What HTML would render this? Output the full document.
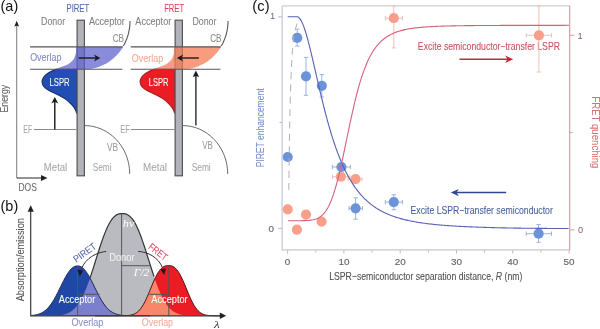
<!DOCTYPE html>
<html><head><meta charset="utf-8"><style>
html,body{margin:0;padding:0;background:#fff;width:600px;height:329px;overflow:hidden}
svg{display:block;filter:blur(0.35px)}
text{font-family:"Liberation Sans", sans-serif}
</style></head><body>
<svg width="600" height="329" viewBox="0 0 600 329">
<rect width="600" height="329" fill="#fff"/>
<text x="0.55" y="10.80" font-size="14.30" fill="#111" stroke="#111" stroke-width="0.00" textLength="17.70" lengthAdjust="spacingAndGlyphs"  style="">(a)</text>
<text x="0.55" y="210.80" font-size="14.30" fill="#111" stroke="#111" stroke-width="0.00" textLength="17.70" lengthAdjust="spacingAndGlyphs"  style="">(b)</text>
<text x="252.35" y="10.80" font-size="14.30" fill="#111" stroke="#111" stroke-width="0.00" textLength="17.20" lengthAdjust="spacingAndGlyphs"  style="">(c)</text>
<path d="M16.7,178 L16.7,25" stroke="#858585" stroke-width="1.1" fill="none"/>
<path d="M16.7,178 L45,178" stroke="#4a4a4a" stroke-width="1.2" fill="none"/>
<path d="M16.7,20.8 L14.3,26.6 L16.7,25.8 L19.1,26.6 Z" fill="#222"/>
<path d="M47.5,178 L41,174.9 L41,181.1 Z" fill="#222"/>
<text x="18.45" y="191.30" font-size="11.02" fill="#6a6a6a" stroke="#6a6a6a" stroke-width="0.08" textLength="18.40" lengthAdjust="spacingAndGlyphs"  style="">DOS</text>
<g transform="translate(5.00,98.70) rotate(-90.00)"><text x="0" y="3.20" font-size="10.37" fill="#606060" stroke="#606060" stroke-width="0.08" text-anchor="middle" textLength="27.70" lengthAdjust="spacingAndGlyphs" style="">Energy</text></g>
<path d="M56.09,69.30 C55.23,69.68 52.67,70.63 50.90,71.60 C49.13,72.57 46.88,73.82 45.50,75.10 C44.12,76.38 43.17,78.13 42.60,79.30 C42.03,80.47 41.92,80.93 42.10,82.10 C42.28,83.27 42.53,84.90 43.70,86.30 C44.87,87.70 46.73,89.10 49.10,90.50 C51.47,91.90 55.05,93.18 57.90,94.70 C60.75,96.22 63.82,97.85 66.20,99.60 C68.58,101.35 70.65,103.47 72.20,105.20 C73.75,106.93 74.78,108.70 75.50,110.00 C76.22,111.30 76.33,112.50 76.50,113.00 L77.00,113.00 L77.00,69.30 Z" fill="#224db2" stroke="#182c6a" stroke-width="1.1"/>
<rect x="77.10" y="20.2" width="7.30" height="155.6" fill="#b2b3b9" stroke="#55565a" stroke-width="1.2"/>
<path d="M76.50,46.90 L122.79,46.90 L122.32,47.67 L121.29,49.21 L120.21,50.72 L119.07,52.17 L117.89,53.58 L116.64,54.94 L115.35,56.25 L114.01,57.50 L112.63,58.70 L111.20,59.83 L109.73,60.91 L108.23,61.93 L106.68,62.88 L105.10,63.77 L103.49,64.59 L101.85,65.35 L100.18,66.03 L98.49,66.65 L96.78,67.20 L95.05,67.67 L93.30,68.08 L91.53,68.41 L89.76,68.67 L87.98,68.85 L86.19,68.96 L84.40,69.00 L56.09,69.30  C56.39,69.17 56.72,68.95 57.90,68.50 C59.08,68.05 61.25,67.45 63.20,66.60 C65.15,65.75 67.82,64.63 69.60,63.40 C71.38,62.17 72.83,60.80 73.90,59.20 C74.97,57.60 75.58,55.33 76.00,53.80 C76.42,52.27 76.32,51.13 76.40,50.00 C76.48,48.87 76.48,47.50 76.50,47.00 Z" fill="#5a60cc" fill-opacity="0.72" stroke="none"/>
<path d="M56.09,69.30 C56.39,69.17 56.72,68.95 57.90,68.50 C59.08,68.05 61.25,67.45 63.20,66.60 C65.15,65.75 67.82,64.63 69.60,63.40 C71.38,62.17 72.83,60.80 73.90,59.20 C74.97,57.60 75.58,55.33 76.00,53.80 C76.42,52.27 76.32,51.13 76.40,50.00 C76.48,48.87 76.48,47.50 76.50,47.00" fill="none" stroke="#5a60cc" stroke-width="0.5" stroke-opacity="0.6"/>
<path d="M30.10,46.90 L122.79,46.90 M30.10,69.30 L122.40,69.30" stroke="#555555" stroke-width="1.1" fill="none"/>
<path d="M123.28,46.08 L124.19,44.45 L125.03,42.79 L125.81,41.10 L126.53,39.37 L127.18,37.61 L127.77,35.83 L128.29,34.03 L128.74,32.21 L129.12,30.36 L129.44,28.51 L129.68,26.64 L129.86,24.77 L129.96,22.88 L130.00,21.00" fill="none" stroke="#555" stroke-width="1.1"/>
<path d="M84.40,69.00 L86.19,68.96 L87.98,68.85 L89.76,68.67 L91.53,68.41 L93.30,68.08 L95.05,67.67 L96.78,67.20 L98.49,66.65 L100.18,66.03 L101.85,65.35 L103.49,64.59 L105.10,63.77 L106.68,62.88 L108.23,61.93 L109.73,60.91 L111.20,59.83 L112.63,58.70 L114.01,57.50 L115.35,56.25 L116.64,54.94 L117.89,53.58 L119.07,52.17 L120.21,50.72 L121.29,49.21 L122.32,47.67" fill="none" stroke="#5a60cc" stroke-width="0.7" stroke-opacity="0.5"/>
<path d="M34.00,129.5 L76.50,129.5" stroke="#8a8a8a" stroke-width="1.1" fill="none"/>
<path d="M84.40,125.60 L86.18,125.64 L87.95,125.75 L89.72,125.94 L91.49,126.20 L93.24,126.53 L94.98,126.94 L96.70,127.42 L98.40,127.97 L100.08,128.59 L101.74,129.28 L103.37,130.05 L104.97,130.88 L106.53,131.77 L108.07,132.73 L109.57,133.76 L111.03,134.84 L112.44,135.99 L113.82,137.20 L115.15,138.46 L116.43,139.78 L117.66,141.15 L118.85,142.57 L119.97,144.04 L121.05,145.55 L122.07,147.11 L123.02,148.71 L123.92,150.35 L124.76,152.03 L125.54,153.74 L126.25,155.48 L126.90,157.25 L127.48,159.04 L128.00,160.86 L128.45,162.70 L128.83,164.56 L129.14,166.43 L129.39,168.31 L129.56,170.20 L129.67,172.10 L129.70,174.00" fill="none" stroke="#666" stroke-width="1.0"/>
<text x="66.55" y="12.40" font-size="11.02" fill="#5267b6" stroke="#5267b6" stroke-width="0.08" textLength="22.60" lengthAdjust="spacingAndGlyphs"  style="">PIRET</text>
<text x="112.65" y="41.70" font-size="10.69" fill="#8c8c8c" stroke="#8c8c8c" stroke-width="0.08" textLength="11.30" lengthAdjust="spacingAndGlyphs"  style="">CB</text>
<text x="23.35" y="133.20" font-size="10.15" fill="#a9a9a9" stroke="#a9a9a9" stroke-width="0.08" textLength="8.90" lengthAdjust="spacingAndGlyphs"  style="">EF</text>
<text x="106.95" y="150.60" font-size="10.15" fill="#9a9a9a" stroke="#9a9a9a" stroke-width="0.08" textLength="11.10" lengthAdjust="spacingAndGlyphs"  style="">VB</text>
<text x="43.85" y="170.60" font-size="10.15" fill="#a9a9a9" stroke="#a9a9a9" stroke-width="0.08" textLength="23.40" lengthAdjust="spacingAndGlyphs"  style="">Metal</text>
<text x="92.75" y="170.60" font-size="10.15" fill="#a9a9a9" stroke="#a9a9a9" stroke-width="0.08" textLength="18.80" lengthAdjust="spacingAndGlyphs"  style="">Semi</text>
<text x="30.15" y="61.40" font-size="10.58" fill="#8289c6" stroke="#8289c6" stroke-width="0.08" textLength="31.30" lengthAdjust="spacingAndGlyphs"  style="">Overlap</text>
<text x="49.55" y="86.20" font-size="11.12" fill="#ffffff" stroke="#ffffff" stroke-width="0.08" textLength="20.00" lengthAdjust="spacingAndGlyphs"  style="">LSPR</text>
<text x="41.05" y="25.10" font-size="10.37" fill="#808080" stroke="#808080" stroke-width="0.08" textLength="24.10" lengthAdjust="spacingAndGlyphs"  style="">Donor</text>
<text x="88.95" y="25.30" font-size="10.37" fill="#808080" stroke="#808080" stroke-width="0.08" textLength="35.90" lengthAdjust="spacingAndGlyphs"  style="">Acceptor</text>
<path d="M78.60,58.0 L96.00,58.0" stroke="#1a1a1a" stroke-width="1.4"/>
<path d="M100.3,58.0 L94.0,54.4 L95.8,58.0 L94.0,61.6 Z" fill="#1a1a1a"/>
<path d="M54.8,129.5 L54.8,101" stroke="#1a1a1a" stroke-width="1.4"/>
<path d="M54.8,96.9 L51.3,103.4 L54.8,101.8 L58.3,103.4 Z" fill="#1a1a1a"/>
<path d="M154.09,69.30 C153.23,69.68 150.67,70.63 148.90,71.60 C147.13,72.57 144.88,73.82 143.50,75.10 C142.12,76.38 141.17,78.13 140.60,79.30 C140.03,80.47 139.92,80.93 140.10,82.10 C140.28,83.27 140.53,84.90 141.70,86.30 C142.87,87.70 144.73,89.10 147.10,90.50 C149.47,91.90 153.05,93.18 155.90,94.70 C158.75,96.22 161.82,97.85 164.20,99.60 C166.58,101.35 168.65,103.47 170.20,105.20 C171.75,106.93 172.78,108.70 173.50,110.00 C174.22,111.30 174.33,112.50 174.50,113.00 L175.00,113.00 L175.00,69.30 Z" fill="#ec1c24" stroke="#a02020" stroke-width="1.1"/>
<rect x="175.10" y="20.2" width="7.30" height="155.6" fill="#b2b3b9" stroke="#55565a" stroke-width="1.2"/>
<path d="M174.50,46.90 L220.79,46.90 L220.32,47.67 L219.29,49.21 L218.21,50.72 L217.07,52.17 L215.89,53.58 L214.64,54.94 L213.35,56.25 L212.01,57.50 L210.63,58.70 L209.20,59.83 L207.73,60.91 L206.23,61.93 L204.68,62.88 L203.10,63.77 L201.49,64.59 L199.85,65.35 L198.18,66.03 L196.49,66.65 L194.78,67.20 L193.05,67.67 L191.30,68.08 L189.53,68.41 L187.76,68.67 L185.98,68.85 L184.19,68.96 L182.40,69.00 L154.09,69.30  C154.39,69.17 154.72,68.95 155.90,68.50 C157.08,68.05 159.25,67.45 161.20,66.60 C163.15,65.75 165.82,64.63 167.60,63.40 C169.38,62.17 170.83,60.80 171.90,59.20 C172.97,57.60 173.58,55.33 174.00,53.80 C174.42,52.27 174.32,51.13 174.40,50.00 C174.48,48.87 174.48,47.50 174.50,47.00 Z" fill="#f47a52" fill-opacity="0.74" stroke="none"/>
<path d="M154.09,69.30 C154.39,69.17 154.72,68.95 155.90,68.50 C157.08,68.05 159.25,67.45 161.20,66.60 C163.15,65.75 165.82,64.63 167.60,63.40 C169.38,62.17 170.83,60.80 171.90,59.20 C172.97,57.60 173.58,55.33 174.00,53.80 C174.42,52.27 174.32,51.13 174.40,50.00 C174.48,48.87 174.48,47.50 174.50,47.00" fill="none" stroke="#f47a52" stroke-width="0.5" stroke-opacity="0.6"/>
<path d="M130.70,46.90 L220.79,46.90 M130.70,69.30 L220.40,69.30" stroke="#555555" stroke-width="1.1" fill="none"/>
<path d="M221.28,46.08 L222.19,44.45 L223.03,42.79 L223.81,41.10 L224.53,39.37 L225.18,37.61 L225.77,35.83 L226.29,34.03 L226.74,32.21 L227.12,30.36 L227.44,28.51 L227.68,26.64 L227.86,24.77 L227.96,22.88 L228.00,21.00" fill="none" stroke="#555" stroke-width="1.1"/>
<path d="M182.40,69.00 L184.19,68.96 L185.98,68.85 L187.76,68.67 L189.53,68.41 L191.30,68.08 L193.05,67.67 L194.78,67.20 L196.49,66.65 L198.18,66.03 L199.85,65.35 L201.49,64.59 L203.10,63.77 L204.68,62.88 L206.23,61.93 L207.73,60.91 L209.20,59.83 L210.63,58.70 L212.01,57.50 L213.35,56.25 L214.64,54.94 L215.89,53.58 L217.07,52.17 L218.21,50.72 L219.29,49.21 L220.32,47.67" fill="none" stroke="#f47a52" stroke-width="0.7" stroke-opacity="0.5"/>
<path d="M130.80,129.5 L174.50,129.5" stroke="#8a8a8a" stroke-width="1.1" fill="none"/>
<path d="M182.40,125.60 L184.18,125.64 L185.95,125.75 L187.72,125.94 L189.49,126.20 L191.24,126.53 L192.98,126.94 L194.70,127.42 L196.40,127.97 L198.08,128.59 L199.74,129.28 L201.37,130.05 L202.97,130.88 L204.53,131.77 L206.07,132.73 L207.57,133.76 L209.03,134.84 L210.44,135.99 L211.82,137.20 L213.15,138.46 L214.43,139.78 L215.66,141.15 L216.85,142.57 L217.97,144.04 L219.05,145.55 L220.07,147.11 L221.02,148.71 L221.92,150.35 L222.76,152.03 L223.54,153.74 L224.25,155.48 L224.90,157.25 L225.48,159.04 L226.00,160.86 L226.45,162.70 L226.83,164.56 L227.14,166.43 L227.39,168.31 L227.56,170.20 L227.67,172.10 L227.70,174.00" fill="none" stroke="#666" stroke-width="1.0"/>
<text x="164.15" y="12.40" font-size="11.02" fill="#e23e5c" stroke="#e23e5c" stroke-width="0.08" textLength="19.90" lengthAdjust="spacingAndGlyphs"  style="">FRET</text>
<text x="210.15" y="41.90" font-size="10.69" fill="#8c8c8c" stroke="#8c8c8c" stroke-width="0.08" textLength="11.30" lengthAdjust="spacingAndGlyphs"  style="">CB</text>
<text x="120.35" y="132.60" font-size="10.15" fill="#a9a9a9" stroke="#a9a9a9" stroke-width="0.08" textLength="9.60" lengthAdjust="spacingAndGlyphs"  style="">EF</text>
<text x="202.25" y="149.40" font-size="10.15" fill="#9a9a9a" stroke="#9a9a9a" stroke-width="0.08" textLength="10.60" lengthAdjust="spacingAndGlyphs"  style="">VB</text>
<text x="143.05" y="170.60" font-size="10.15" fill="#a9a9a9" stroke="#a9a9a9" stroke-width="0.08" textLength="24.00" lengthAdjust="spacingAndGlyphs"  style="">Metal</text>
<text x="191.65" y="170.60" font-size="10.15" fill="#a9a9a9" stroke="#a9a9a9" stroke-width="0.08" textLength="19.10" lengthAdjust="spacingAndGlyphs"  style="">Semi</text>
<text x="131.85" y="61.60" font-size="10.58" fill="#f2a894" stroke="#f2a894" stroke-width="0.08" textLength="31.30" lengthAdjust="spacingAndGlyphs"  style="">Overlap</text>
<text x="148.85" y="85.80" font-size="11.12" fill="#ffffff" stroke="#ffffff" stroke-width="0.08" textLength="19.70" lengthAdjust="spacingAndGlyphs"  style="">LSPR</text>
<text x="135.35" y="25.30" font-size="10.37" fill="#808080" stroke="#808080" stroke-width="0.08" textLength="35.90" lengthAdjust="spacingAndGlyphs"  style="">Acceptor</text>
<text x="192.45" y="25.10" font-size="10.37" fill="#808080" stroke="#808080" stroke-width="0.08" textLength="23.90" lengthAdjust="spacingAndGlyphs"  style="">Donor</text>
<path d="M198.80,58.0 L181.00,58.0" stroke="#1a1a1a" stroke-width="1.4"/>
<path d="M176.9,58.0 L183.2,54.4 L181.4,58.0 L183.2,61.6 Z" fill="#1a1a1a"/>
<path d="M195.9,125.5 L195.9,75" stroke="#1a1a1a" stroke-width="1.3"/>
<path d="M195.9,70.6 L192.7,77.0 L195.9,76.0 L199.1,77.0 Z" fill="#1a1a1a"/>
<path d="M31.00,315.80 L31.00,315.80 L32.21,315.80 L33.41,315.80 L34.62,315.80 L35.83,315.80 L37.03,315.80 L38.24,315.80 L39.44,315.80 L40.65,315.80 L41.86,315.79 L43.06,315.79 L44.27,315.79 L45.48,315.78 L46.68,315.78 L47.89,315.77 L49.09,315.75 L50.30,315.74 L51.51,315.71 L52.71,315.68 L53.92,315.65 L55.12,315.60 L56.33,315.53 L57.54,315.45 L58.74,315.34 L59.95,315.21 L61.16,315.05 L62.36,314.84 L63.57,314.59 L64.78,314.29 L65.98,313.92 L67.19,313.48 L68.39,312.96 L69.60,312.34 L70.81,311.61 L72.01,310.76 L73.22,309.79 L74.42,308.66 L75.63,307.39 L76.84,305.94 L78.04,304.32 L79.25,302.52 L80.46,300.52 L81.66,298.33 L82.87,295.93 L84.08,293.34 L85.28,290.56 L86.49,287.59 L87.69,284.44 L88.90,281.13 L90.11,277.67 L91.31,274.08 L92.52,270.39 L93.72,266.61 L94.93,262.79 L96.14,258.94 L97.34,255.10 L98.55,251.29 L99.76,247.56 L100.96,243.91 L102.17,240.40 L103.38,237.04 L104.58,233.85 L105.79,230.87 L106.99,228.10 L108.20,225.57 L109.41,223.28 L110.61,221.25 L111.82,219.47 L113.03,217.95 L114.23,216.68 L115.44,215.66 L116.64,214.87 L117.85,214.30 L119.06,213.91 L120.26,213.70 L121.47,213.61 L122.67,213.60 L123.88,213.66 L125.09,213.83 L126.29,214.16 L127.50,214.68 L128.71,215.41 L129.91,216.36 L131.12,217.55 L132.32,218.99 L133.53,220.69 L134.74,222.65 L135.94,224.86 L137.15,227.33 L138.36,230.02 L139.56,232.95 L140.77,236.08 L141.97,239.39 L143.18,242.86 L144.39,246.47 L145.59,250.18 L146.80,253.97 L148.01,257.81 L149.21,261.65 L150.42,265.49 L151.62,269.28 L152.83,273.00 L154.04,276.62 L155.24,280.12 L156.45,283.48 L157.66,286.67 L158.86,289.70 L160.07,292.54 L161.28,295.19 L162.48,297.64 L163.69,299.89 L164.89,301.95 L166.10,303.81 L167.31,305.48 L168.51,306.98 L169.72,308.30 L170.93,309.47 L172.13,310.49 L173.34,311.37 L174.54,312.13 L175.75,312.78 L176.96,313.34 L178.16,313.80 L179.37,314.19 L180.57,314.51 L181.78,314.77 L182.99,314.99 L184.19,315.17 L185.40,315.31 L186.61,315.42 L187.81,315.51 L189.02,315.58 L190.22,315.63 L191.43,315.67 L192.64,315.71 L193.84,315.73 L195.05,315.75 L196.26,315.76 L197.46,315.77 L198.67,315.78 L199.88,315.79 L201.08,315.79 L202.29,315.79 L203.49,315.80 L204.70,315.80 L205.91,315.80 L207.11,315.80 L208.32,315.80 L209.53,315.80 L210.73,315.80 L211.94,315.80 L213.14,315.80 L214.35,315.80 L215.56,315.80 L216.76,315.80 L217.97,315.80 L219.18,315.80 L220.38,315.80 L221.59,315.80 L222.79,315.80 L224.00,315.80 L224.00,315.80 Z" fill="#babbc0"/>
<path d="M31.00,315.80 L31.00,315.47 L31.81,315.40 L32.61,315.32 L33.42,315.22 L34.23,315.11 L35.03,314.98 L35.84,314.83 L36.64,314.66 L37.45,314.45 L38.26,314.22 L39.06,313.96 L39.87,313.66 L40.67,313.33 L41.48,312.95 L42.29,312.52 L43.09,312.04 L43.90,311.52 L44.71,310.93 L45.51,310.29 L46.32,309.59 L47.12,308.82 L47.93,307.98 L48.74,307.08 L49.54,306.10 L50.35,305.06 L51.16,303.95 L51.96,302.77 L52.77,301.52 L53.58,300.21 L54.38,298.83 L55.19,297.40 L55.99,295.91 L56.80,294.38 L57.61,292.81 L58.41,291.21 L59.22,289.58 L60.02,287.94 L60.83,286.29 L61.64,284.64 L62.44,283.01 L63.25,281.40 L64.06,279.83 L64.86,278.30 L65.67,276.82 L66.47,275.41 L67.28,274.08 L68.09,272.82 L68.89,271.66 L69.70,270.59 L70.51,269.63 L71.31,268.78 L72.12,268.03 L72.92,267.40 L73.73,266.89 L74.54,266.48 L75.34,266.19 L76.15,266.00 L76.96,265.91 L77.76,265.90 L78.57,265.96 L79.38,266.11 L80.18,266.37 L80.99,266.73 L81.79,267.21 L82.60,267.80 L83.41,268.50 L84.21,269.32 L85.02,270.25 L85.83,271.28 L86.63,272.41 L87.44,273.63 L88.24,274.94 L89.05,276.32 L89.86,277.78 L90.66,279.29 L91.47,280.85 L92.28,282.45 L93.08,284.07 L93.89,285.71 L94.69,287.36 L95.50,289.01 L96.31,290.64 L97.11,292.26 L97.92,293.84 L98.72,295.39 L99.53,296.89 L100.34,298.34 L101.14,299.73 L101.95,301.07 L102.76,302.34 L103.56,303.54 L104.37,304.68 L105.17,305.75 L105.98,306.75 L106.79,307.67 L107.59,308.53 L108.40,309.32 L109.21,310.05 L110.01,310.72 L110.82,311.32 L111.62,311.87 L112.43,312.36 L113.24,312.80 L114.04,313.20 L114.85,313.55 L115.66,313.86 L116.46,314.14 L117.27,314.38 L118.08,314.59 L118.88,314.77 L119.69,314.93 L120.49,315.07 L121.30,315.19 L122.11,315.29 L122.91,315.37 L123.72,315.45 L124.53,315.51 L125.33,315.56 L126.14,315.60 L126.94,315.64 L127.75,315.67 L128.56,315.70 L129.36,315.72 L130.17,315.73 L130.97,315.75 L131.78,315.76 L132.59,315.77 L133.39,315.77 L134.20,315.78 L135.01,315.78 L135.81,315.79 L136.62,315.79 L137.43,315.79 L138.23,315.79 L139.04,315.80 L139.84,315.80 L140.65,315.80 L141.46,315.80 L142.26,315.80 L143.07,315.80 L143.88,315.80 L144.68,315.80 L145.49,315.80 L146.29,315.80 L147.10,315.80 L147.91,315.80 L148.71,315.80 L149.52,315.80 L150.32,315.80 L151.13,315.80 L151.94,315.80 L152.74,315.80 L153.55,315.80 L154.36,315.80 L155.16,315.80 L155.97,315.80 L156.78,315.80 L157.58,315.80 L158.39,315.80 L159.19,315.80 L160.00,315.80 L160.00,315.80 Z" fill="#2147a6"/>
<path d="M90.00,315.80 L90.00,315.80 L90.84,315.80 L91.67,315.80 L92.51,315.80 L93.35,315.80 L94.19,315.80 L95.03,315.80 L95.86,315.80 L96.70,315.80 L97.54,315.80 L98.38,315.80 L99.21,315.80 L100.05,315.80 L100.89,315.80 L101.72,315.80 L102.56,315.80 L103.40,315.80 L104.24,315.80 L105.08,315.80 L105.91,315.80 L106.75,315.80 L107.59,315.80 L108.42,315.80 L109.26,315.80 L110.10,315.80 L110.94,315.80 L111.78,315.80 L112.61,315.80 L113.45,315.80 L114.29,315.80 L115.12,315.80 L115.96,315.80 L116.80,315.80 L117.64,315.80 L118.47,315.79 L119.31,315.79 L120.15,315.79 L120.99,315.78 L121.83,315.77 L122.66,315.76 L123.50,315.74 L124.34,315.72 L125.17,315.69 L126.01,315.66 L126.85,315.61 L127.69,315.54 L128.53,315.46 L129.36,315.35 L130.20,315.22 L131.04,315.06 L131.88,314.86 L132.71,314.61 L133.55,314.31 L134.39,313.96 L135.22,313.53 L136.06,313.03 L136.90,312.45 L137.74,311.78 L138.57,311.02 L139.41,310.15 L140.25,309.17 L141.09,308.07 L141.93,306.87 L142.76,305.55 L143.60,304.11 L144.44,302.57 L145.28,300.92 L146.11,299.18 L146.95,297.35 L147.79,295.45 L148.62,293.49 L149.46,291.49 L150.30,289.47 L151.14,287.43 L151.97,285.41 L152.81,283.42 L153.65,281.48 L154.49,279.60 L155.32,277.80 L156.16,276.11 L157.00,274.52 L157.84,273.05 L158.68,271.71 L159.51,270.51 L160.35,269.45 L161.19,268.54 L162.03,267.76 L162.86,267.11 L163.70,266.60 L164.54,266.21 L165.38,265.93 L166.21,265.75 L167.05,265.65 L167.89,265.60 L168.72,265.60 L169.56,265.62 L170.40,265.69 L171.24,265.83 L172.07,266.07 L172.91,266.41 L173.75,266.86 L174.59,267.44 L175.43,268.16 L176.26,269.01 L177.10,270.01 L177.94,271.14 L178.78,272.42 L179.61,273.82 L180.45,275.36 L181.29,277.01 L182.12,278.76 L182.96,280.60 L183.80,282.51 L184.64,284.49 L185.47,286.50 L186.31,288.53 L187.15,290.56 L187.99,292.57 L188.82,294.55 L189.66,296.48 L190.50,298.34 L191.34,300.13 L192.18,301.82 L193.01,303.41 L193.85,304.90 L194.69,306.27 L195.53,307.53 L196.36,308.67 L197.20,309.71 L198.04,310.63 L198.88,311.44 L199.71,312.16 L200.55,312.78 L201.39,313.31 L202.22,313.77 L203.06,314.16 L203.90,314.48 L204.74,314.75 L205.57,314.97 L206.41,315.15 L207.25,315.30 L208.09,315.41 L208.93,315.51 L209.76,315.58 L210.60,315.63 L211.44,315.68 L212.28,315.71 L213.11,315.73 L213.95,315.75 L214.79,315.77 L215.62,315.78 L216.46,315.78 L217.30,315.79 L218.14,315.79 L218.97,315.79 L219.81,315.80 L220.65,315.80 L221.49,315.80 L222.32,315.80 L223.16,315.80 L224.00,315.80 L224.00,315.80 Z" fill="#ec1c24"/>
<path d="M31.00,315.80 L31.00,315.80 L31.81,315.80 L32.61,315.80 L33.42,315.80 L34.23,315.80 L35.03,315.80 L35.84,315.80 L36.64,315.80 L37.45,315.80 L38.26,315.80 L39.06,315.80 L39.87,315.80 L40.67,315.80 L41.48,315.79 L42.29,315.79 L43.09,315.79 L43.90,315.79 L44.71,315.79 L45.51,315.78 L46.32,315.78 L47.12,315.77 L47.93,315.77 L48.74,315.76 L49.54,315.75 L50.35,315.74 L51.16,315.72 L51.96,315.70 L52.77,315.68 L53.58,315.66 L54.38,315.63 L55.19,315.59 L55.99,315.55 L56.80,315.50 L57.61,315.44 L58.41,315.37 L59.22,315.29 L60.02,315.20 L60.83,315.09 L61.64,314.97 L62.44,314.83 L63.25,314.66 L64.06,314.48 L64.86,314.27 L65.67,314.02 L66.47,313.75 L67.28,313.44 L68.09,313.10 L68.89,312.71 L69.70,312.28 L70.51,311.80 L71.31,311.27 L72.12,310.68 L72.92,310.04 L73.73,309.33 L74.54,308.55 L75.34,307.71 L76.15,306.79 L76.96,305.79 L77.76,304.72 L78.57,303.56 L79.38,302.32 L80.18,300.99 L80.99,299.58 L81.79,298.07 L82.60,296.48 L83.41,294.80 L84.21,293.03 L85.02,291.18 L85.83,289.24 L86.63,287.22 L87.44,285.12 L88.24,282.95 L89.05,280.70 L89.86,278.39 L90.66,279.29 L91.47,280.85 L92.28,282.45 L93.08,284.07 L93.89,285.71 L94.69,287.36 L95.50,289.01 L96.31,290.64 L97.11,292.26 L97.92,293.84 L98.72,295.39 L99.53,296.89 L100.34,298.34 L101.14,299.73 L101.95,301.07 L102.76,302.34 L103.56,303.54 L104.37,304.68 L105.17,305.75 L105.98,306.75 L106.79,307.67 L107.59,308.53 L108.40,309.32 L109.21,310.05 L110.01,310.72 L110.82,311.32 L111.62,311.87 L112.43,312.36 L113.24,312.80 L114.04,313.20 L114.85,313.55 L115.66,313.86 L116.46,314.14 L117.27,314.38 L118.08,314.59 L118.88,314.77 L119.69,314.93 L120.49,315.07 L121.30,315.19 L122.11,315.29 L122.91,315.37 L123.72,315.45 L124.53,315.51 L125.33,315.56 L126.14,315.60 L126.94,315.64 L127.75,315.67 L128.56,315.70 L129.36,315.72 L130.17,315.73 L130.97,315.75 L131.78,315.76 L132.59,315.77 L133.39,315.77 L134.20,315.78 L135.01,315.78 L135.81,315.79 L136.62,315.79 L137.43,315.79 L138.23,315.79 L139.04,315.80 L139.84,315.80 L140.65,315.80 L141.46,315.80 L142.26,315.80 L143.07,315.80 L143.88,315.80 L144.68,315.80 L145.49,315.80 L146.29,315.80 L147.10,315.80 L147.91,315.80 L148.71,315.80 L149.52,315.80 L150.32,315.80 L151.13,315.80 L151.94,315.80 L152.74,315.80 L153.55,315.80 L154.36,315.80 L155.16,315.80 L155.97,315.80 L156.78,315.80 L157.58,315.80 L158.39,315.80 L159.19,315.80 L160.00,315.80 L160.00,315.80 Z" fill="#7b7fcc"/>
<path d="M90.00,315.80 L90.00,315.80 L90.84,315.80 L91.67,315.80 L92.51,315.80 L93.35,315.80 L94.19,315.80 L95.03,315.80 L95.86,315.80 L96.70,315.80 L97.54,315.80 L98.38,315.80 L99.21,315.80 L100.05,315.80 L100.89,315.80 L101.72,315.80 L102.56,315.80 L103.40,315.80 L104.24,315.80 L105.08,315.80 L105.91,315.80 L106.75,315.80 L107.59,315.80 L108.42,315.80 L109.26,315.80 L110.10,315.80 L110.94,315.80 L111.78,315.80 L112.61,315.80 L113.45,315.80 L114.29,315.80 L115.12,315.80 L115.96,315.80 L116.80,315.80 L117.64,315.80 L118.47,315.79 L119.31,315.79 L120.15,315.79 L120.99,315.78 L121.83,315.77 L122.66,315.76 L123.50,315.74 L124.34,315.72 L125.17,315.69 L126.01,315.66 L126.85,315.61 L127.69,315.54 L128.53,315.46 L129.36,315.35 L130.20,315.22 L131.04,315.06 L131.88,314.86 L132.71,314.61 L133.55,314.31 L134.39,313.96 L135.22,313.53 L136.06,313.03 L136.90,312.45 L137.74,311.78 L138.57,311.02 L139.41,310.15 L140.25,309.17 L141.09,308.07 L141.93,306.87 L142.76,305.55 L143.60,304.11 L144.44,302.57 L145.28,300.92 L146.11,299.18 L146.95,297.35 L147.79,295.45 L148.62,293.49 L149.46,291.49 L150.30,289.47 L151.14,287.43 L151.97,285.41 L152.81,283.42 L153.65,281.48 L154.49,279.60 L155.32,280.35 L156.16,282.69 L157.00,284.96 L157.84,287.14 L158.68,289.24 L159.51,291.25 L160.35,293.18 L161.19,295.00 L162.03,296.74 L162.86,298.37 L163.70,299.91 L164.54,301.36 L165.38,302.71 L166.21,303.97 L167.05,305.14 L167.89,306.23 L168.72,307.22 L169.56,308.14 L170.40,308.98 L171.24,309.75 L172.07,310.45 L172.91,311.08 L173.75,311.65 L174.59,312.16 L175.43,312.62 L176.26,313.03 L177.10,313.40 L177.94,313.72 L178.78,314.01 L179.61,314.26 L180.45,314.48 L181.29,314.67 L182.12,314.84 L182.96,314.99 L183.80,315.11 L184.64,315.22 L185.47,315.31 L186.31,315.39 L187.15,315.46 L187.99,315.52 L188.82,315.57 L189.66,315.61 L190.50,315.64 L191.34,315.67 L192.18,315.70 L193.01,315.71 L193.85,315.73 L194.69,315.74 L195.53,315.76 L196.36,315.76 L197.20,315.77 L198.04,315.78 L198.88,315.78 L199.71,315.79 L200.55,315.79 L201.39,315.79 L202.22,315.79 L203.06,315.79 L203.90,315.80 L204.74,315.80 L205.57,315.80 L206.41,315.80 L207.25,315.80 L208.09,315.80 L208.93,315.80 L209.76,315.80 L210.60,315.80 L211.44,315.80 L212.28,315.80 L213.11,315.80 L213.95,315.80 L214.79,315.80 L215.62,315.80 L216.46,315.80 L217.30,315.80 L218.14,315.80 L218.97,315.80 L219.81,315.80 L220.65,315.80 L221.49,315.80 L222.32,315.80 L223.16,315.80 L224.00,315.80 L224.00,315.80 Z" fill="#f7866a"/>
<path d="M90.11,277.67 L91.31,274.08 L92.52,270.39 L93.72,266.61 L94.93,262.79 L96.14,258.94 L97.34,255.10 L98.55,251.29 L99.76,247.56 L100.96,243.91 L102.17,240.40 L103.38,237.04 L104.58,233.85 L105.79,230.87 L106.99,228.10 L108.20,225.57 L109.41,223.28 L110.61,221.25 L111.82,219.47 L113.03,217.95 L114.23,216.68 L115.44,215.66 L116.64,214.87 L117.85,214.30 L119.06,213.91 L120.26,213.70 L121.47,213.61 L122.67,213.60 L123.88,213.66 L125.09,213.83 L126.29,214.16 L127.50,214.68 L128.71,215.41 L129.91,216.36 L131.12,217.55 L132.32,218.99 L133.53,220.69 L134.74,222.65 L135.94,224.86 L137.15,227.33 L138.36,230.02 L139.56,232.95 L140.77,236.08 L141.97,239.39 L143.18,242.86 L144.39,246.47 L145.59,250.18 L146.80,253.97 L148.01,257.81 L149.21,261.65 L150.42,265.49 L151.62,269.28 L152.83,273.00 L154.04,276.62" fill="none" stroke="#333" stroke-width="1.2"/>
<path d="M31.00,315.47 L31.74,315.41 L32.49,315.33 L33.23,315.25 L33.98,315.15 L34.72,315.03 L35.46,314.90 L36.21,314.75 L36.95,314.58 L37.69,314.39 L38.44,314.17 L39.18,313.92 L39.92,313.64 L40.67,313.33 L41.41,312.98 L42.16,312.59 L42.90,312.16 L43.64,311.69 L44.39,311.17 L45.13,310.60 L45.88,309.98 L46.62,309.31 L47.36,308.58 L48.11,307.79 L48.85,306.95 L49.59,306.04 L50.34,305.08 L51.08,304.06 L51.83,302.97 L52.57,301.84 L53.31,300.64 L54.06,299.39 L54.80,298.09 L55.54,296.75 L56.29,295.36 L57.03,293.94 L57.77,292.48 L58.52,291.00 L59.26,289.49 L60.01,287.98 L60.75,286.45 L61.49,284.93 L62.24,283.43 L62.98,281.93 L63.73,280.47 L64.47,279.04 L65.21,277.65 L65.96,276.31 L66.70,275.03 L67.44,273.82 L68.19,272.67 L68.93,271.61 L69.67,270.63 L70.42,269.73 L71.16,268.93 L71.91,268.22 L72.65,267.60 L73.39,267.09 L74.14,266.67 L74.88,266.34 L75.62,266.11 L76.37,265.97 L77.11,265.91 L77.86,265.91 L78.60,265.97 L79.34,266.11 L80.09,266.33 L80.83,266.65 L81.58,267.07 L82.32,267.58 L83.06,268.19 L83.81,268.89 L84.55,269.69 L85.29,270.59 L86.04,271.57 L86.78,272.63 L87.53,273.77 L88.27,274.98 L89.01,276.26 L89.76,277.59 L90.50,278.98 L91.24,280.41 L91.99,281.87 L92.73,283.36 L93.47,284.87 L94.22,286.39 L94.96,287.91 L95.71,289.43 L96.45,290.93 L97.19,292.42 L97.94,293.88 L98.68,295.30 L99.42,296.69 L100.17,298.04 L100.91,299.34 L101.66,300.59 L102.40,301.79 L103.14,302.93 L103.89,304.01 L104.63,305.04 L105.38,306.00 L106.12,306.91 L106.86,307.76 L107.61,308.55 L108.35,309.28 L109.09,309.95 L109.84,310.58 L110.58,311.15 L111.33,311.67 L112.07,312.14 L112.81,312.57 L113.56,312.96 L114.30,313.31 L115.04,313.63 L115.79,313.91 L116.53,314.16 L117.28,314.38 L118.02,314.57 L118.76,314.75 L119.51,314.90 L120.25,315.03 L120.99,315.14 L121.74,315.24 L122.48,315.33 L123.22,315.40 L123.97,315.47 L124.71,315.52 L125.46,315.57 L126.20,315.61 L126.94,315.64 L127.69,315.67 L128.43,315.69 L129.18,315.71 L129.92,315.73 L130.66,315.74 L131.41,315.75 L132.15,315.76 L132.89,315.77 L133.64,315.77 L134.38,315.78 L135.12,315.78 L135.87,315.79 L136.61,315.79 L137.36,315.79 L138.10,315.79 L138.84,315.80 L139.59,315.80 L140.33,315.80 L141.07,315.80 L141.82,315.80 L142.56,315.80 L143.31,315.80 L144.05,315.80 L144.79,315.80 L145.54,315.80 L146.28,315.80 L147.03,315.80 L147.77,315.80 L148.51,315.80 L149.26,315.80 L150.00,315.80" fill="none" stroke="#1e2a55" stroke-width="1.0"/>
<path d="M95.00,315.80 L95.81,315.80 L96.61,315.80 L97.42,315.80 L98.22,315.80 L99.03,315.80 L99.84,315.80 L100.64,315.80 L101.45,315.80 L102.26,315.80 L103.06,315.80 L103.87,315.80 L104.67,315.80 L105.48,315.80 L106.29,315.80 L107.09,315.80 L107.90,315.80 L108.71,315.80 L109.51,315.80 L110.32,315.80 L111.12,315.80 L111.93,315.80 L112.74,315.80 L113.54,315.80 L114.35,315.80 L115.16,315.80 L115.96,315.80 L116.77,315.80 L117.58,315.80 L118.38,315.79 L119.19,315.79 L119.99,315.79 L120.80,315.78 L121.61,315.77 L122.41,315.76 L123.22,315.75 L124.03,315.73 L124.83,315.71 L125.64,315.67 L126.44,315.63 L127.25,315.58 L128.06,315.51 L128.86,315.42 L129.67,315.31 L130.47,315.17 L131.28,315.00 L132.09,314.80 L132.89,314.55 L133.70,314.25 L134.51,313.90 L135.31,313.48 L136.12,313.00 L136.93,312.44 L137.73,311.79 L138.54,311.05 L139.34,310.22 L140.15,309.29 L140.96,308.25 L141.76,307.11 L142.57,305.86 L143.38,304.51 L144.18,303.05 L144.99,301.50 L145.79,299.85 L146.60,298.13 L147.41,296.33 L148.21,294.47 L149.02,292.56 L149.82,290.62 L150.63,288.66 L151.44,286.71 L152.24,284.77 L153.05,282.86 L153.86,281.01 L154.66,279.22 L155.47,277.50 L156.28,275.89 L157.08,274.37 L157.89,272.97 L158.69,271.69 L159.50,270.53 L160.31,269.51 L161.11,268.61 L161.92,267.85 L162.72,267.21 L163.53,266.70 L164.34,266.29 L165.14,266.00 L165.95,265.80 L166.76,265.67 L167.56,265.61 L168.37,265.60 L169.18,265.61 L169.98,265.65 L170.79,265.75 L171.59,265.92 L172.40,266.19 L173.21,266.55 L174.01,267.03 L174.82,267.63 L175.62,268.35 L176.43,269.20 L177.24,270.18 L178.04,271.30 L178.85,272.54 L179.66,273.90 L180.46,275.38 L181.27,276.97 L182.07,278.65 L182.88,280.42 L183.69,282.25 L184.49,284.14 L185.30,286.07 L186.11,288.03 L186.91,289.98 L187.72,291.93 L188.53,293.85 L189.33,295.73 L190.14,297.55 L190.94,299.30 L191.75,300.97 L192.56,302.56 L193.36,304.05 L194.17,305.43 L194.97,306.72 L195.78,307.89 L196.59,308.96 L197.39,309.93 L198.20,310.79 L199.01,311.56 L199.81,312.23 L200.62,312.82 L201.43,313.33 L202.23,313.77 L203.04,314.15 L203.84,314.46 L204.65,314.72 L205.46,314.94 L206.26,315.12 L207.07,315.27 L207.88,315.39 L208.68,315.48 L209.49,315.56 L210.29,315.61 L211.10,315.66 L211.91,315.70 L212.71,315.72 L213.52,315.74 L214.32,315.76 L215.13,315.77 L215.94,315.78 L216.74,315.79 L217.55,315.79 L218.36,315.79 L219.16,315.80 L219.97,315.80 L220.78,315.80 L221.58,315.80 L222.39,315.80 L223.19,315.80 L224.00,315.80" fill="none" stroke="#4a1515" stroke-width="1.0"/>
<path d="M77.6,265.90 L77.6,315.8 M77.6,294.3 L99.50,294.3" stroke="#555" stroke-width="1.0" fill="none"/>
<path d="M121.6,213.60 L121.6,315.8 M121.6,265.7 L150.60,265.7" stroke="#55575c" stroke-width="1.0" fill="none"/>
<path d="M168.8,265.60 L168.8,315.8 M148.2,294.3 L168.8,294.3" stroke="#555" stroke-width="1.0" fill="none"/>
<path d="M30.7,210 L30.7,315.8 L221,315.8" stroke="#3a3a3a" stroke-width="1.2" fill="none"/>
<path d="M30.7,205.3 L27.6,211.8 L33.8,211.8 Z" fill="#222"/>
<path d="M226.2,315.8 L219.8,312.6 L219.8,319.0 Z" fill="#222"/>
<g transform="translate(21.10,259.70) rotate(-90.00)"><text x="0" y="3.30" font-size="10.58" fill="#555" stroke="#555" stroke-width="0.08" text-anchor="middle" textLength="83.30" lengthAdjust="spacingAndGlyphs" style="">Absorption/emission</text></g>
<text x="58.85" y="302.80" font-size="11.34" fill="#ffffff" stroke="#ffffff" stroke-width="0.08" textLength="36.40" lengthAdjust="spacingAndGlyphs"  style="">Acceptor</text>
<text x="151.35" y="303.00" font-size="11.34" fill="#ffffff" stroke="#ffffff" stroke-width="0.08" textLength="36.30" lengthAdjust="spacingAndGlyphs"  style="">Acceptor</text>
<text x="71.55" y="325.60" font-size="10.37" fill="#8a90c6" stroke="#8a90c6" stroke-width="0.08" textLength="31.80" lengthAdjust="spacingAndGlyphs"  style="">Overlap</text>
<text x="141.85" y="325.60" font-size="10.37" fill="#f3ad9b" stroke="#f3ad9b" stroke-width="0.08" textLength="31.20" lengthAdjust="spacingAndGlyphs"  style="">Overlap</text>
<text x="109.15" y="261.00" font-size="10.37" fill="#f2f2f2" stroke="#f2f2f2" stroke-width="0.08" textLength="25.40" lengthAdjust="spacingAndGlyphs"  style="">Donor</text>
<text x="122.85" y="227.40" font-size="10.00" fill="#ffffff" stroke="#ffffff" stroke-width="0.00" textLength="11.70" lengthAdjust="spacingAndGlyphs"  style="font-family:&quot;Liberation Serif&quot;,serif;font-style:italic">hv</text>
<text x="133.85" y="276.00" font-size="10.20" fill="#ffffff" stroke="#ffffff" stroke-width="0.00" textLength="15.50" lengthAdjust="spacingAndGlyphs"  style="font-family:&quot;Liberation Serif&quot;,serif;font-style:italic">Γ/2</text>
<text x="214.05" y="328.00" font-size="10.50" fill="#333" stroke="#333" stroke-width="0.00" textLength="5.70" lengthAdjust="spacingAndGlyphs"  style="font-family:&quot;Liberation Serif&quot;,serif;font-style:italic">λ</text>
<g transform="translate(84.90,252.80) rotate(-36.00)"><text x="0" y="3.10" font-size="9.72" fill="#5866b3" stroke="#5866b3" stroke-width="0.08" text-anchor="middle" textLength="25.70" lengthAdjust="spacingAndGlyphs" style="">PIRET</text></g>
<g transform="translate(158.00,252.00) rotate(37.50)"><text x="0" y="3.10" font-size="9.72" fill="#e0526a" stroke="#e0526a" stroke-width="0.08" text-anchor="middle" textLength="21.30" lengthAdjust="spacingAndGlyphs" style="">FRET</text></g>
<path d="M106.2,251.4 C96,252.6 86,258 81.5,268.5" stroke="#333" stroke-width="1.0" fill="none"/>
<path d="M79.8,276.4 L77.3,269.6 L83.0,270.4 Z" fill="#1a1a1a"/>
<path d="M138.1,251.4 C148,252.0 158,257 162.6,267.8" stroke="#333" stroke-width="1.0" fill="none"/>
<path d="M164.2,275.0 L160.4,269.2 L166.0,268.4 Z" fill="#1a1a1a"/>
<path d="M282.3,5.9 L569.7,5.9" stroke="#cfcfcf" stroke-width="1.1" fill="none"/>
<path d="M282.3,249.9 L569.7,249.9" stroke="#c8c8c8" stroke-width="1.1" fill="none"/>
<path d="M282.1,5.4 L282.1,250.4" stroke="#c6c6dc" stroke-width="1.2" fill="none"/>
<path d="M569.7,5.4 L569.7,250.4" stroke="#c99d9d" stroke-width="1.1" fill="none"/>
<path d="M287.60,250.4 L287.60,253.60 M315.75,250.4 L315.75,252.60 M343.90,250.4 L343.90,253.60 M372.05,250.4 L372.05,252.60 M400.20,250.4 L400.20,253.60 M428.35,250.4 L428.35,252.60 M456.50,250.4 L456.50,253.60 M484.65,250.4 L484.65,252.60 M512.80,250.4 L512.80,253.60 M540.95,250.4 L540.95,252.60 M569.10,250.4 L569.10,253.60 " stroke="#bdbdbd" stroke-width="1" fill="none"/>
<path d="M278.1,16.8 L282.3,16.8 M279.5,122.5 L282.3,122.5 M278.1,228.4 L282.3,228.4" stroke="#b8b8d0" stroke-width="1" fill="none"/>
<path d="M569.7,35.3 L574.3,35.3 M569.7,132.6 L572.5,132.6 M569.7,229.9 L574.3,229.9" stroke="#d6a0a0" stroke-width="1" fill="none"/>
<text x="287.60" y="265.3" font-size="9.9" fill="#666" stroke="#666" stroke-width="0.15" text-anchor="middle" style="">0</text>
<text x="343.90" y="265.3" font-size="9.9" fill="#666" stroke="#666" stroke-width="0.15" text-anchor="middle" style="">10</text>
<text x="400.20" y="265.3" font-size="9.9" fill="#666" stroke="#666" stroke-width="0.15" text-anchor="middle" style="">20</text>
<text x="456.50" y="265.3" font-size="9.9" fill="#666" stroke="#666" stroke-width="0.15" text-anchor="middle" style="">30</text>
<text x="512.80" y="265.3" font-size="9.9" fill="#666" stroke="#666" stroke-width="0.15" text-anchor="middle" style="">40</text>
<text x="569.10" y="265.3" font-size="9.9" fill="#666" stroke="#666" stroke-width="0.15" text-anchor="middle" style="">50</text>
<text x="272.6" y="19.2" font-size="9.4" fill="#6a6a80" text-anchor="middle">1</text>
<text x="271.3" y="231.9" font-size="9.9" fill="#6a6a80" stroke="#6a6a80" stroke-width="0.2" text-anchor="middle">0</text>
<text x="580.0" y="38.6" font-size="9.2" fill="#8a5a5a" text-anchor="middle">1</text>
<text x="580.5" y="233.2" font-size="9.2" fill="#8a5a5a" text-anchor="middle">0</text>
<text x="329.15" y="280.20" font-size="10.69" fill="#505050" stroke="#505050" stroke-width="0.08" textLength="193.20" lengthAdjust="spacingAndGlyphs"  style="">LSPR−semiconductor separation distance, <tspan style="font-style:italic">R</tspan> (nm)</text>
<g transform="translate(261.00,127.90) rotate(-90.00)"><text x="0" y="3.30" font-size="10.15" fill="#7890c8" stroke="#7890c8" stroke-width="0.08" text-anchor="middle" textLength="78.90" lengthAdjust="spacingAndGlyphs" style="">PIRET enhancement</text></g>
<g transform="translate(595.00,132.40) rotate(90.00)"><text x="0" y="3.30" font-size="10.15" fill="#d87272" stroke="#d87272" stroke-width="0.08" text-anchor="middle" textLength="72.10" lengthAdjust="spacingAndGlyphs" style="">FRET quenching</text></g>
<text x="417.85" y="50.20" font-size="10.69" fill="#c5525e" stroke="#c5525e" stroke-width="0.08" textLength="142.10" lengthAdjust="spacingAndGlyphs"  style="">Excite semiconductor−transfer LSPR</text>
<text x="410.55" y="214.30" font-size="10.69" fill="#48609e" stroke="#48609e" stroke-width="0.08" textLength="142.30" lengthAdjust="spacingAndGlyphs"  style="">Excite LSPR−transfer semiconductor</text>
<path d="M459.5,59.3 L508,59.3" stroke="#b5303a" stroke-width="1.5" fill="none"/>
<path d="M513.2,59.3 L505.2,55.6 L507.4,59.3 L505.2,63.0 Z" fill="#b5303a"/>
<path d="M506.2,192.6 L456,192.6" stroke="#2d4b8c" stroke-width="1.5" fill="none"/>
<path d="M450.8,192.6 L458.8,188.9 L456.6,192.6 L458.8,196.3 Z" fill="#2d4b8c"/>
<path d="M332.60,176.70 L350.00,176.70 M332.60,174.50 L332.60,178.90 M350.00,174.50 L350.00,178.90 " stroke="#f4bfb4" stroke-width="1" fill="none"/>
<path d="M348.00,179.10 L362.00,179.10 M348.00,176.90 L348.00,181.30 M362.00,176.90 L362.00,181.30 " stroke="#f4bfb4" stroke-width="1" fill="none"/>
<path d="M393.80,5.90 L393.80,47.90 M391.60,5.90 L396.00,5.90 M391.60,47.90 L396.00,47.90 M385.30,18.20 L402.40,18.20 M385.30,16.00 L385.30,20.40 M402.40,16.00 L402.40,20.40 " stroke="#f4bfb4" stroke-width="1" fill="none"/>
<path d="M538.90,5.90 L538.90,72.00 M536.70,5.90 L541.10,5.90 M536.70,72.00 L541.10,72.00 M526.30,35.30 L551.60,35.30 M526.30,33.10 L526.30,37.50 M551.60,33.10 L551.60,37.50 " stroke="#f4bfb4" stroke-width="1" fill="none"/>
<circle cx="287.70" cy="209.40" r="5.1" fill="#f89f8b"/>
<circle cx="296.90" cy="229.70" r="5.1" fill="#f89f8b"/>
<circle cx="306.00" cy="214.60" r="5.1" fill="#f89f8b"/>
<circle cx="321.60" cy="221.60" r="5.1" fill="#f89f8b"/>
<circle cx="340.90" cy="176.70" r="5.1" fill="#f89f8b"/>
<circle cx="355.50" cy="179.10" r="5.1" fill="#f89f8b"/>
<circle cx="393.80" cy="18.20" r="5.1" fill="#f89f8b"/>
<circle cx="538.90" cy="35.30" r="5.1" fill="#f89f8b"/>
<path d="M297.20,29.20 L297.20,46.10 M295.00,29.20 L299.40,29.20 M295.00,46.10 L299.40,46.10 " stroke="#9bb2e0" stroke-width="1" fill="none"/>
<path d="M306.00,57.40 L306.00,95.30 M303.80,57.40 L308.20,57.40 M303.80,95.30 L308.20,95.30 " stroke="#9bb2e0" stroke-width="1" fill="none"/>
<path d="M321.80,74.60 L321.80,97.00 M319.60,74.60 L324.00,74.60 M319.60,97.00 L324.00,97.00 " stroke="#9bb2e0" stroke-width="1" fill="none"/>
<path d="M332.40,167.00 L350.40,167.00 M332.40,164.80 L332.40,169.20 M350.40,164.80 L350.40,169.20 " stroke="#9bb2e0" stroke-width="1" fill="none"/>
<path d="M355.60,197.80 L355.60,219.20 M353.40,197.80 L357.80,197.80 M353.40,219.20 L357.80,219.20 M349.00,208.30 L362.50,208.30 M349.00,206.10 L349.00,210.50 M362.50,206.10 L362.50,210.50 " stroke="#9bb2e0" stroke-width="1" fill="none"/>
<path d="M393.80,194.80 L393.80,209.70 M391.60,194.80 L396.00,194.80 M391.60,209.70 L396.00,209.70 M385.30,202.10 L402.40,202.10 M385.30,199.90 L385.30,204.30 M402.40,199.90 L402.40,204.30 " stroke="#9bb2e0" stroke-width="1" fill="none"/>
<path d="M538.60,224.50 L538.60,242.30 M536.40,224.50 L540.80,224.50 M536.40,242.30 L540.80,242.30 M526.20,233.70 L551.50,233.70 M526.20,231.50 L526.20,235.90 M551.50,231.50 L551.50,235.90 " stroke="#9bb2e0" stroke-width="1" fill="none"/>
<circle cx="287.70" cy="157.00" r="5.1" fill="#6a93da"/>
<circle cx="297.20" cy="37.90" r="5.1" fill="#6a93da"/>
<circle cx="306.00" cy="76.30" r="5.1" fill="#6a93da"/>
<circle cx="321.80" cy="85.80" r="5.1" fill="#6a93da"/>
<circle cx="341.40" cy="167.00" r="5.1" fill="#6a93da"/>
<circle cx="355.60" cy="208.30" r="5.1" fill="#6a93da"/>
<circle cx="393.80" cy="202.10" r="5.1" fill="#6a93da"/>
<circle cx="538.60" cy="233.70" r="5.1" fill="#6a93da"/>
<path d="M287.70,16.80 L288.70,16.80 L289.70,16.80 L290.70,16.80 L291.70,16.80 L292.70,16.80 L293.70,16.80 L294.70,16.80 L295.70,16.80 L296.70,16.80 L297.70,16.86 L298.70,17.38 L299.70,18.39 L300.70,19.82 L301.70,21.66 L302.70,23.87 L303.70,26.41 L304.70,29.26 L305.70,32.38 L306.70,35.75 L307.70,39.34 L308.70,43.11 L309.70,47.04 L310.70,51.10 L311.70,55.26 L312.70,59.51 L313.70,63.81 L314.70,68.15 L315.70,72.51 L316.70,76.87 L317.70,81.22 L318.70,85.54 L319.70,89.81 L320.70,94.04 L321.70,98.20 L322.70,102.30 L323.70,106.32 L324.70,110.26 L325.70,114.11 L326.70,117.87 L327.70,121.54 L328.70,125.11 L329.70,128.59 L330.70,131.97 L331.70,135.25 L332.70,138.43 L333.70,141.52 L334.70,144.51 L335.70,147.40 L336.70,150.20 L337.70,152.91 L338.70,155.53 L339.70,158.06 L340.70,160.50 L341.70,162.85 L342.70,165.13 L343.70,167.32 L344.70,169.44 L345.70,171.48 L346.70,173.45 L347.70,175.34 L348.70,177.17 L349.70,178.93 L350.70,180.63 L351.70,182.27 L352.70,183.84 L353.70,185.36 L354.70,186.82 L355.70,188.23 L356.70,189.59 L357.70,190.89 L358.70,192.15 L359.70,193.36 L360.70,194.53 L361.70,195.66 L362.70,196.74 L363.70,197.78 L364.70,198.79 L365.70,199.76 L366.70,200.69 L367.70,201.59 L368.70,202.45 L369.70,203.29 L370.70,204.09 L371.70,204.87 L372.70,205.62 L373.70,206.34 L374.70,207.03 L375.70,207.70 L376.70,208.35 L377.70,208.97 L378.70,209.57 L379.70,210.15 L380.70,210.71 L381.70,211.25 L382.70,211.77 L383.70,212.27 L384.70,212.76 L385.70,213.22 L386.70,213.67 L387.70,214.11 L388.70,214.53 L389.70,214.94 L390.70,215.33 L391.70,215.71 L392.70,216.08 L393.70,216.43 L394.70,216.78 L395.70,217.11 L396.70,217.43 L397.70,217.74 L398.70,218.04 L399.70,218.32 L400.70,218.61 L401.70,218.88 L402.70,219.15 L403.70,219.41 L404.70,219.66 L405.70,219.90 L406.70,220.13 L407.70,220.36 L408.70,220.58 L409.70,220.79 L410.70,221.00 L411.70,221.20 L412.70,221.40 L413.70,221.58 L414.70,221.77 L415.70,221.94 L416.70,222.12 L417.70,222.28 L418.70,222.45 L419.70,222.60 L420.70,222.76 L421.70,222.90 L422.70,223.05 L423.70,223.19 L424.70,223.32 L425.70,223.46 L426.70,223.58 L427.70,223.71 L428.70,223.83 L429.70,223.95 L430.70,224.06 L431.70,224.17 L432.70,224.28 L433.70,224.39 L434.70,224.49 L435.70,224.59 L436.70,224.69 L437.70,224.78 L438.70,224.87 L439.70,224.96 L440.70,225.05 L441.70,225.13 L442.70,225.22 L443.70,225.30 L444.70,225.38 L445.70,225.45 L446.70,225.53 L447.70,225.60 L448.70,225.67 L449.70,225.74 L450.70,225.81 L451.70,225.87 L452.70,225.94 L453.70,226.00 L454.70,226.06 L455.70,226.12 L456.70,226.18 L457.70,226.24 L458.70,226.29 L459.70,226.35 L460.70,226.40 L461.70,226.45 L462.70,226.50 L463.70,226.55 L464.70,226.60 L465.70,226.65 L466.70,226.69 L467.70,226.74 L468.70,226.78 L469.70,226.83 L470.70,226.87 L471.70,226.91 L472.70,226.95 L473.70,226.99 L474.70,227.03 L475.70,227.07 L476.70,227.11 L477.70,227.14 L478.70,227.18 L479.70,227.21 L480.70,227.25 L481.70,227.28 L482.70,227.31 L483.70,227.35 L484.70,227.38 L485.70,227.41 L486.70,227.44 L487.70,227.47 L488.70,227.50 L489.70,227.53 L490.70,227.56 L491.70,227.58 L492.70,227.61 L493.70,227.64 L494.70,227.66 L495.70,227.69 L496.70,227.71 L497.70,227.74 L498.70,227.76 L499.70,227.79 L500.70,227.81 L501.70,227.83 L502.70,227.86 L503.70,227.88 L504.70,227.90 L505.70,227.92 L506.70,227.94 L507.70,227.97 L508.70,227.99 L509.70,228.01 L510.70,228.03 L511.70,228.05 L512.70,228.07 L513.70,228.08 L514.70,228.09 L515.70,228.11 L516.70,228.12 L517.70,228.13 L518.70,228.15 L519.70,228.16 L520.70,228.17 L521.70,228.18 L522.70,228.20 L523.70,228.21 L524.70,228.22 L525.70,228.23 L526.70,228.24 L527.70,228.25 L528.70,228.26 L529.70,228.27 L530.70,228.28 L531.70,228.29 L532.70,228.30 L533.70,228.31 L534.70,228.32 L535.70,228.33 L536.70,228.34 L537.70,228.35 L538.70,228.36 L539.70,228.37 L540.70,228.38 L541.70,228.38 L542.70,228.39 L543.70,228.40 L544.70,228.41 L545.70,228.42 L546.70,228.42 L547.70,228.43 L548.70,228.44 L549.70,228.45 L550.70,228.45 L551.70,228.46 L552.70,228.47 L553.70,228.47 L554.70,228.48 L555.70,228.49 L556.70,228.49 L557.70,228.50 L558.70,228.50 L559.70,228.51 L560.70,228.52 L561.70,228.52 L562.70,228.53 L563.70,228.53 L564.70,228.54 L565.70,228.54 L566.70,228.55 L567.70,228.55 L568.70,228.56" fill="none" stroke="#5862b2" stroke-width="1.1"/>
<path d="M288.00,220.70 L289.00,220.70 L290.00,220.70 L291.00,220.70 L292.00,220.70 L293.00,220.70 L294.00,220.70 L295.00,220.70 L296.00,220.70 L297.00,220.70 L298.00,220.70 L299.00,220.69 L300.00,220.69 L301.00,220.68 L302.00,220.67 L303.00,220.66 L304.00,220.64 L305.00,220.61 L306.00,220.57 L307.00,220.53 L308.00,220.46 L309.00,220.39 L310.00,220.29 L311.00,220.16 L312.00,220.01 L313.00,219.82 L314.00,219.60 L315.00,219.32 L316.00,218.99 L317.00,218.60 L318.00,218.14 L319.00,217.61 L320.00,216.98 L321.00,216.25 L322.00,215.41 L323.00,214.45 L324.00,213.36 L325.00,212.12 L326.00,210.72 L327.00,209.15 L328.00,207.41 L329.00,205.47 L330.00,203.33 L331.00,200.99 L332.00,198.43 L333.00,195.66 L334.00,192.66 L335.00,189.45 L336.00,186.02 L337.00,182.38 L338.00,178.53 L339.00,174.51 L340.00,170.31 L341.00,165.95 L342.00,161.46 L343.00,156.85 L344.00,152.15 L345.00,147.39 L346.00,142.59 L347.00,137.76 L348.00,132.95 L349.00,128.17 L350.00,123.44 L351.00,118.78 L352.00,114.21 L353.00,109.76 L354.00,105.42 L355.00,101.22 L356.00,97.16 L357.00,93.25 L358.00,89.50 L359.00,85.90 L360.00,82.47 L361.00,79.20 L362.00,76.09 L363.00,73.13 L364.00,70.34 L365.00,67.69 L366.00,65.19 L367.00,62.83 L368.00,60.60 L369.00,58.51 L370.00,56.54 L371.00,54.69 L372.00,52.94 L373.00,51.31 L374.00,49.77 L375.00,48.33 L376.00,46.98 L377.00,45.72 L378.00,44.53 L379.00,43.41 L380.00,42.37 L381.00,41.39 L382.00,40.47 L383.00,39.61 L384.00,38.80 L385.00,38.04 L386.00,37.33 L387.00,36.67 L388.00,36.04 L389.00,35.45 L390.00,34.90 L391.00,34.38 L392.00,33.89 L393.00,33.44 L394.00,33.01 L395.00,32.60 L396.00,32.22 L397.00,31.86 L398.00,31.52 L399.00,31.21 L400.00,30.91 L401.00,30.62 L402.00,30.36 L403.00,30.11 L404.00,29.87 L405.00,29.65 L406.00,29.44 L407.00,29.24 L408.00,29.05 L409.00,28.87 L410.00,28.70 L411.00,28.54 L412.00,28.39 L413.00,28.25 L414.00,28.11 L415.00,27.98 L416.00,27.86 L417.00,27.75 L418.00,27.64 L419.00,27.54 L420.00,27.44 L421.00,27.34 L422.00,27.26 L423.00,27.17 L424.00,27.09 L425.00,27.01 L426.00,26.94 L427.00,26.87 L428.00,26.81 L429.00,26.75 L430.00,26.69 L431.00,26.63 L432.00,26.58 L433.00,26.52 L434.00,26.48 L435.00,26.43 L436.00,26.38 L437.00,26.34 L438.00,26.30 L439.00,26.26 L440.00,26.22 L441.00,26.19 L442.00,26.16 L443.00,26.12 L444.00,26.09 L445.00,26.06 L446.00,26.03 L447.00,26.01 L448.00,25.98 L449.00,25.96 L450.00,25.93 L451.00,25.91 L452.00,25.89 L453.00,25.87 L454.00,25.85 L455.00,25.83 L456.00,25.81 L457.00,25.79 L458.00,25.77 L459.00,25.76 L460.00,25.74 L461.00,25.73 L462.00,25.71 L463.00,25.70 L464.00,25.69 L465.00,25.67 L466.00,25.66 L467.00,25.65 L468.00,25.64 L469.00,25.63 L470.00,25.62 L471.00,25.61 L472.00,25.60 L473.00,25.59 L474.00,25.58 L475.00,25.57 L476.00,25.56 L477.00,25.55 L478.00,25.54 L479.00,25.54 L480.00,25.53 L481.00,25.52 L482.00,25.52 L483.00,25.51 L484.00,25.50 L485.00,25.50 L486.00,25.49 L487.00,25.48 L488.00,25.48 L489.00,25.47 L490.00,25.47 L491.00,25.46 L492.00,25.46 L493.00,25.45 L494.00,25.45 L495.00,25.45 L496.00,25.44 L497.00,25.44 L498.00,25.43 L499.00,25.43 L500.00,25.43 L501.00,25.42 L502.00,25.42 L503.00,25.42 L504.00,25.41 L505.00,25.41 L506.00,25.41 L507.00,25.40 L508.00,25.40 L509.00,25.40 L510.00,25.40 L511.00,25.39 L512.00,25.39 L513.00,25.39 L514.00,25.39 L515.00,25.38 L516.00,25.38 L517.00,25.38 L518.00,25.38 L519.00,25.38 L520.00,25.37 L521.00,25.37 L522.00,25.37 L523.00,25.37 L524.00,25.37 L525.00,25.36 L526.00,25.36 L527.00,25.36 L528.00,25.36 L529.00,25.36 L530.00,25.36 L531.00,25.36 L532.00,25.35 L533.00,25.35 L534.00,25.35 L535.00,25.35 L536.00,25.35 L537.00,25.35 L538.00,25.35 L539.00,25.35 L540.00,25.35 L541.00,25.34 L542.00,25.34 L543.00,25.34 L544.00,25.34 L545.00,25.34 L546.00,25.34 L547.00,25.34 L548.00,25.34 L549.00,25.34 L550.00,25.34 L551.00,25.33 L552.00,25.33 L553.00,25.33 L554.00,25.33 L555.00,25.33 L556.00,25.33 L557.00,25.33 L558.00,25.33 L559.00,25.33 L560.00,25.33 L561.00,25.33 L562.00,25.33 L563.00,25.33 L564.00,25.33 L565.00,25.33 L566.00,25.32 L567.00,25.32 L568.00,25.32 L569.00,25.32" fill="none" stroke="#d6607a" stroke-width="1.1"/>
<path d="M288.80,190.00 C288.88,183.33 289.10,163.33 289.30,150.00 C289.50,136.67 289.73,121.67 290.00,110.00 C290.27,98.33 290.60,88.33 290.90,80.00 C291.20,71.67 291.48,65.67 291.80,60.00 C292.12,54.33 292.38,50.33 292.80,46.00 C293.22,41.67 293.72,37.33 294.30,34.00 C294.88,30.67 295.62,28.17 296.30,26.00 C296.98,23.83 298.05,21.83 298.40,21.00" fill="none" stroke="#b0b0b0" stroke-width="1.0" stroke-dasharray="7 5.3"/>
</svg></body></html>
